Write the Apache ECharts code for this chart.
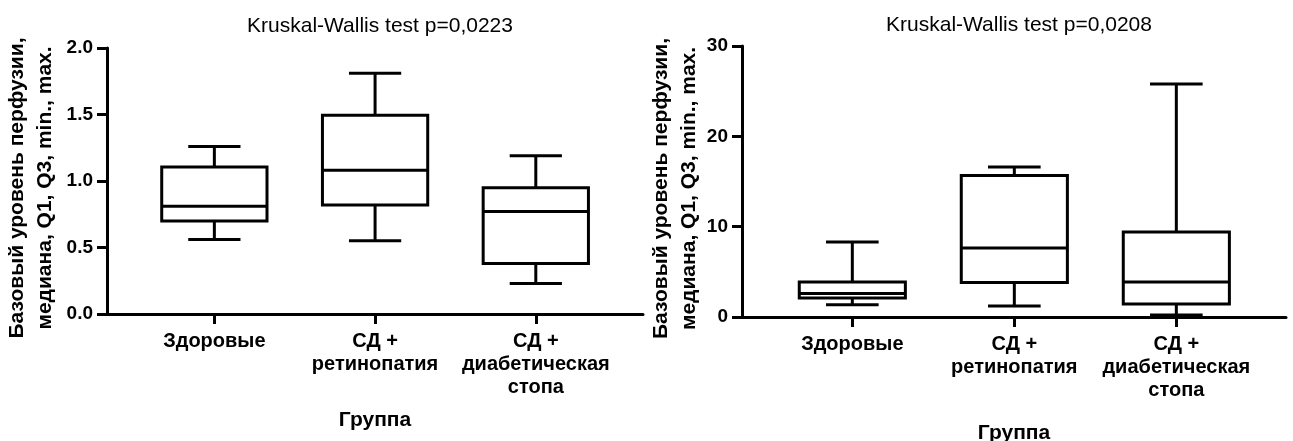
<!DOCTYPE html>
<html>
<head>
<meta charset="utf-8">
<script src="https://cdn.jsdelivr.net/npm/echarts@6/dist/echarts.min.js"></script>
<style>
  html, body { margin: 0; padding: 0; background: #fff; }
  #chart { width: 1293px; height: 441px; }
</style>
</head>
<body>
<div id="chart"></div>
<script>
// groups on the x axis
const categories = ['Здоровые', 'СД +\nретинопатия', 'СД +\nдиабетическая\nстопа']

// left panel: [min, Q1, median, Q3, max] per group
const leftMin = [0.56, 0.55, 0.23]
const leftQ1 = [0.70, 0.82, 0.38]
const leftMedian = [0.81, 1.08, 0.77]
const leftQ3 = [1.105, 1.495, 0.95]
const leftMax = [1.26, 1.81, 1.19]

// right panel
const rightMin = [1.36, 1.22, 0.22]
const rightQ1 = [2.1, 3.83, 1.45]
const rightMedian = [2.6, 7.63, 3.87]
const rightQ3 = [3.87, 15.67, 9.4]
const rightMax = [8.3, 16.6, 25.8]

const leftTitle = 'Kruskal-Wallis test p=0,0223'
const rightTitle = 'Kruskal-Wallis test p=0,0208'
const yName = 'Базовый уровень перфузии,\nмедиана, Q1, Q3, min., max.'
const xName = 'Группа'

const font = '"Liberation Sans", Arial, sans-serif'

function toRows(mins, q1s, meds, q3s, maxs) {
  return categories.map((c, i) => [i, mins[i], q1s[i], meds[i], q3s[i], maxs[i]])
}

function renderBox(params, api) {
  const x = api.value(0)
  const lo = api.coord([x, api.value(1)])
  const q1 = api.coord([x, api.value(2)])
  const med = api.coord([x, api.value(3)])
  const q3 = api.coord([x, api.value(4)])
  const hi = api.coord([x, api.value(5)])
  const unit = api.size([1, 0])[0]
  const half = unit * 0.655 / 2
  const cap = unit * 0.325 / 2
  const cx = med[0]
  const line = { stroke: '#000', lineWidth: 3 }
  return {
    type: 'group',
    children: [
      { type: 'line', shape: { x1: cx, y1: hi[1], x2: cx, y2: q3[1] }, style: line },
      { type: 'line', shape: { x1: cx, y1: q1[1], x2: cx, y2: lo[1] }, style: line },
      { type: 'line', shape: { x1: cx - cap, y1: hi[1], x2: cx + cap, y2: hi[1] }, style: line },
      { type: 'line', shape: { x1: cx - cap, y1: lo[1], x2: cx + cap, y2: lo[1] }, style: line },
      { type: 'rect', shape: { x: cx - half, y: q3[1], width: half * 2, height: q1[1] - q3[1] },
        style: { fill: '#fff', stroke: '#000', lineWidth: 3 } },
      { type: 'line', shape: { x1: cx - half, y1: med[1], x2: cx + half, y2: med[1] }, style: line }
    ]
  }
}

function xAxis(gridIndex, min, max, nameGap) {
  return {
    type: 'value',
    gridIndex,
    min,
    max,
    name: xName,
    nameLocation: 'middle',
    nameGap,
    nameTextStyle: { fontFamily: font, fontWeight: 'bold', fontSize: 21, color: '#000' },
    splitLine: { show: false },
    axisLine: { onZero: false, lineStyle: { color: '#000', width: 3 } },
    axisTick: { customValues: [0, 1, 2], length: 10, lineStyle: { color: '#000', width: 3 } },
    axisLabel: {
      customValues: [0, 1, 2],
      formatter: (v) => categories[Math.round(v)],
      margin: 16,
      fontFamily: font,
      fontWeight: 'bold',
      fontSize: 20,
      lineHeight: 23,
      color: '#000'
    }
  }
}

function yAxis(gridIndex, max, interval, nameGap, decimals) {
  return {
    type: 'value',
    gridIndex,
    min: 0,
    max,
    interval,
    name: yName,
    nameLocation: 'middle',
    nameGap,
    nameTextStyle: { fontFamily: font, fontWeight: 'bold', fontSize: 21, lineHeight: 28, color: '#000', padding: [0, 14, 0, 0] },
    splitLine: { show: false },
    axisLine: { show: true, onZero: false, lineStyle: { color: '#000', width: 3 } },
    axisTick: { show: true, length: 10, lineStyle: { color: '#000', width: 3 } },
    axisLabel: {
      margin: 14,
      fontFamily: font,
      fontWeight: 'bold',
      fontSize: 19,
      color: '#000',
      formatter: (v) => v.toFixed(decimals)
    }
  }
}

const chart = echarts.init(document.getElementById('chart'), null, { renderer: 'canvas' })

chart.setOption({
  backgroundColor: '#fff',
  animation: false,
  title: [
    { text: leftTitle, left: 375, top: 11, textAlign: 'center',
      textStyle: { fontFamily: font, fontWeight: 'normal', fontSize: 21, color: '#000' } },
    { text: rightTitle, left: 1014, top: 10, textAlign: 'center',
      textStyle: { fontFamily: font, fontWeight: 'normal', fontSize: 21, color: '#000' } }
  ],
  grid: [
    { left: 107, right: 650, top: 48, bottom: 127, outerBoundsMode: 'none' },
    { left: 742, right: 7, top: 46, bottom: 124, outerBoundsMode: 'none' }
  ],
  xAxis: [
    xAxis(0, -0.668, 2.667, 96),
    xAxis(1, -0.681, 2.677, 106)
  ],
  yAxis: [
    yAxis(0, 2, 0.5, 48, 1),
    yAxis(1, 30, 10, 39, 0)
  ],
  series: [
    {
      type: 'custom',
      xAxisIndex: 0,
      yAxisIndex: 0,
      renderItem: renderBox,
      encode: { x: 0, y: [1, 2, 3, 4, 5] },
      data: toRows(leftMin, leftQ1, leftMedian, leftQ3, leftMax)
    },
    {
      type: 'custom',
      xAxisIndex: 1,
      yAxisIndex: 1,
      renderItem: renderBox,
      encode: { x: 0, y: [1, 2, 3, 4, 5] },
      data: toRows(rightMin, rightQ1, rightMedian, rightQ3, rightMax)
    }
  ]
})
</script>
</body>
</html>
